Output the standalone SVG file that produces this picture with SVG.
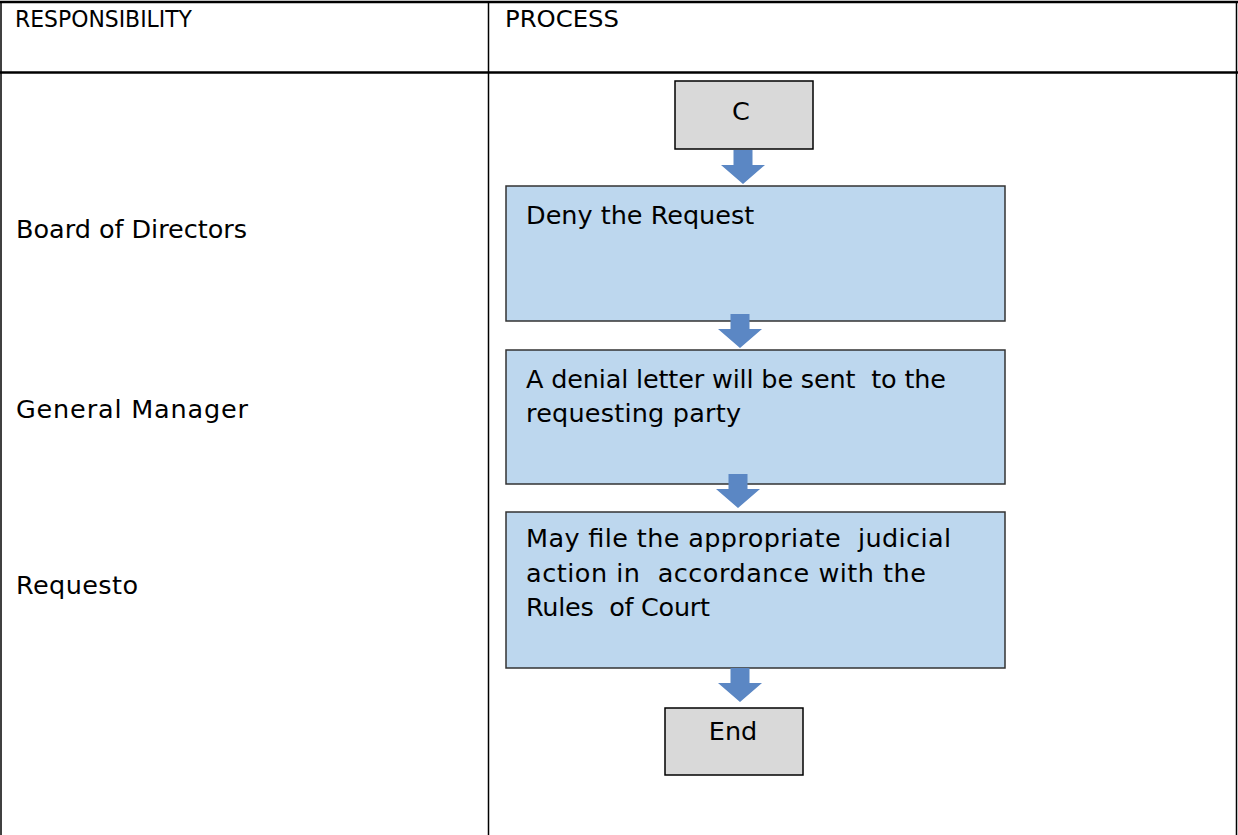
<svg xmlns="http://www.w3.org/2000/svg" width="1238" height="835" viewBox="0 0 1238 835">
  <style>
    .txt { font-family: "DejaVu Sans", "Liberation Sans", sans-serif; fill: #000; white-space: pre; }
    .hdr { font-size: 23.5px; }
    .lbl { font-size: 25.5px; }
    .grid { stroke: #000; fill: none; }
    .step { fill: #bdd7ee; stroke: #333; stroke-width: 1.5; }
    .term { fill: #d9d9d9; stroke: #000; stroke-width: 1.5; }
    .flow { fill: #5b87c4; }
  </style>
  <defs>
    <!-- block arrow pointing down, origin at shaft top centre -->
    <path id="blockArrow" d="M -9.5 0 L 9.5 0 L 9.5 15 L 22 15 L 0 34 L -22 15 L -9.5 15 Z"/>
  </defs>

  <rect width="1238" height="835" fill="#fff"/>

  <!-- table frame -->
  <g id="table">
    <line class="grid" x1="0" y1="2" x2="1238" y2="2" stroke="#555" stroke-width="2.5"/>
    <line class="grid" x1="1" y1="2" x2="1" y2="835" stroke-width="1.5"/>
    <line class="grid" x1="1236.5" y1="2" x2="1236.5" y2="835" stroke-width="1.5"/>
    <line class="grid" x1="488.5" y1="2" x2="488.5" y2="835" stroke-width="1.5"/>
    <line class="grid" x1="0" y1="72.5" x2="1238" y2="72.5" stroke-width="2.5"/>
    <text class="txt hdr" x="15" y="27" textLength="177" lengthAdjust="spacingAndGlyphs">RESPONSIBILITY</text>
    <text class="txt hdr" x="505" y="27" textLength="114" lengthAdjust="spacingAndGlyphs">PROCESS</text>
  </g>

  <!-- responsibility column -->
  <g id="roles">
    <text class="txt lbl" x="16" y="238" textLength="231">Board of Directors</text>
    <text class="txt lbl" x="16" y="418" textLength="232">General Manager</text>
    <text class="txt lbl" x="16" y="594" textLength="122">Requesto</text>
  </g>

  <!-- process nodes -->
  <g id="node-c">
    <rect class="term" x="675" y="81" width="138" height="68"/>
    <text class="txt lbl" x="741" y="120" text-anchor="middle">C</text>
  </g>
  <g id="node-deny">
    <rect class="step" x="506" y="186" width="499" height="135"/>
    <text class="txt lbl" x="526" y="224">Deny the Request</text>
  </g>
  <g id="node-letter">
    <rect class="step" x="506" y="350" width="499" height="134"/>
    <text class="txt lbl" x="526" y="388" textLength="420">A denial letter will be sent  to the</text>
    <text class="txt lbl" x="526" y="422" textLength="215">requesting party</text>
  </g>
  <g id="node-judicial">
    <rect class="step" x="506" y="512" width="499" height="156"/>
    <text class="txt lbl" x="526" y="547" textLength="425">May file the appropriate  judicial</text>
    <text class="txt lbl" x="526" y="582" textLength="400">action in  accordance with the</text>
    <text class="txt lbl" x="526" y="616" textLength="184">Rules  of Court</text>
  </g>
  <g id="node-end">
    <rect class="term" x="665" y="708" width="138" height="67"/>
    <text class="txt lbl" x="733" y="740" text-anchor="middle">End</text>
  </g>

  <!-- connectors -->
  <g id="connectors" class="flow">
    <use href="#blockArrow" transform="translate(743,150)"/>
    <use href="#blockArrow" transform="translate(740,314)"/>
    <use href="#blockArrow" transform="translate(738,474)"/>
    <use href="#blockArrow" transform="translate(740,668)"/>
  </g>
</svg>
